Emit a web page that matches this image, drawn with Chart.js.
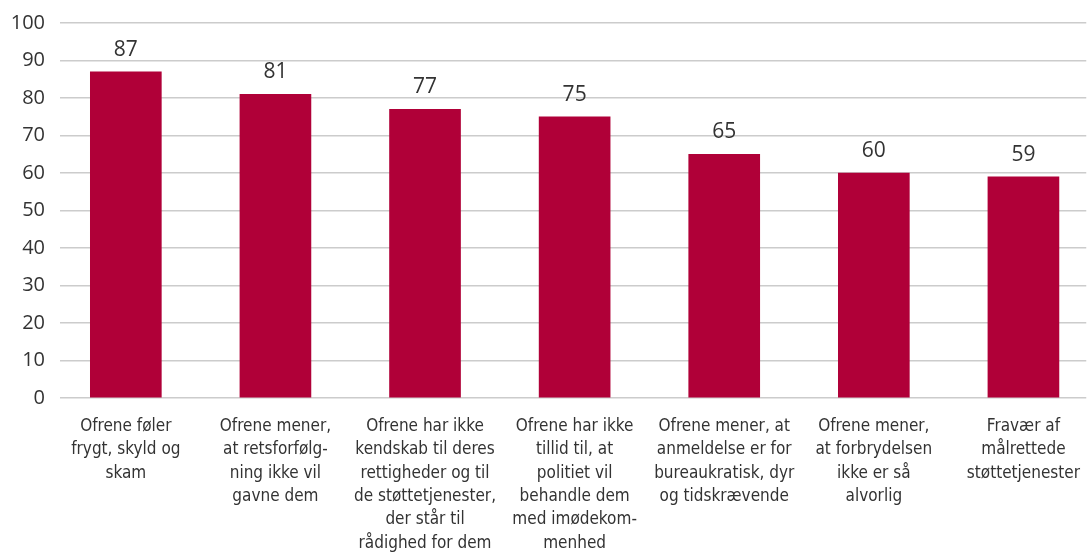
<!DOCTYPE html>
<html lang="da">
<head>
<meta charset="UTF-8">
<title>Årsager</title>
<script src="https://cdn.jsdelivr.net/npm/chart.js@4.4.1/dist/chart.umd.min.js"></script>
<style>
  html, body { margin: 0; padding: 0; background: #fff; overflow: hidden; }
  #wrap { width: 1089px; height: 553px; }
</style>
</head>
<body>
<div id="wrap"><canvas id="canvas"></canvas></div>
<script>
  // data
  var categories = [
    ['Ofrene føler', 'frygt, skyld og', 'skam'],
    ['Ofrene mener,', 'at retsforfølg-', 'ning ikke vil', 'gavne dem'],
    ['Ofrene har ikke', 'kendskab til deres', 'rettigheder og til', 'de støttetjenester,', 'der står til', 'rådighed for dem'],
    ['Ofrene har ikke', 'tillid til, at', 'politiet vil', 'behandle dem', 'med imødekom-', 'menhed'],
    ['Ofrene mener, at', 'anmeldelse er for', 'bureaukratisk, dyr', 'og tidskrævende'],
    ['Ofrene mener,', 'at forbrydelsen', 'ikke er så', 'alvorlig'],
    ['Fravær af', 'målrettede', 'støttetjenester']
  ];
  var values = [87, 81, 77, 75, 65, 60, 59];
  var yTicks = [0, 10, 20, 30, 40, 50, 60, 70, 80, 90, 100];

  var FONT = 'Open Sans';
  var LABEL_FONT = 'DejaVu Sans Condensed';
  var TEXT = '#333333';

  // labels above the bars
  var valueLabels = {
    id: 'valueLabels',
    afterDatasetsDraw: function (chart) {
      var ctx = chart.ctx;
      var meta = chart.getDatasetMeta(0);
      ctx.save();
      ctx.font = '21px "' + FONT + '"';
      ctx.fillStyle = TEXT;
      ctx.textAlign = 'center';
      ctx.textBaseline = 'middle';
      meta.data.forEach(function (bar, i) {
        ctx.fillText(values[i], bar.x, bar.y - 22);
      });
      ctx.restore();
    }
  };

  var ctx = document.getElementById('canvas').getContext('2d');
  window.myChart = new Chart(ctx, {
    type: 'bar',
    data: {
      datasets: [{
        data: values.map(function (v, i) { return { x: i, y: v }; }),
        backgroundColor: '#B00038',
        borderWidth: 0,
        barThickness: 71
      }]
    },
    options: {
      responsive: true,
      maintainAspectRatio: false,
      animation: false,
      layout: { padding: { top: 23, right: 0, left: 0, bottom: 0 } },
      plugins: {
        legend: { display: false },
        tooltip: { enabled: false }
      },
      scales: {
        x: {
          type: 'linear',
          min: -0.44,
          max: 6.42,
          offset: false,
          grid: { display: false, offset: false },
          border: { display: false },
          afterFit: function (scale) { scale.height = 155; },
          afterBuildTicks: function (scale) {
            scale.ticks = categories.map(function (c, i) { return { value: i }; });
          },
          ticks: {
            autoSkip: false,
            maxRotation: 0,
            minRotation: 0,
            padding: 9,
            color: TEXT,
            font: { family: LABEL_FONT, size: 17, lineHeight: 1.37 },
            callback: function (v) { return categories[v]; }
          }
        },
        y: {
          min: 0,
          max: 100,
          afterFit: function (scale) {
            scale.width = 60;
            scale.paddingTop = 0;
            scale.paddingBottom = 0;
          },
          afterBuildTicks: function (scale) {
            scale.ticks = yTicks.map(function (v) { return { value: v }; });
          },
          grid: { color: '#cccccc', lineWidth: 1.5, drawTicks: false },
          border: { display: false },
          ticks: {
            padding: 15,
            color: TEXT,
            font: { family: FONT, size: 20 }
          }
        }
      }
    },
    plugins: [valueLabels]
  });
</script>
</body>
</html>
